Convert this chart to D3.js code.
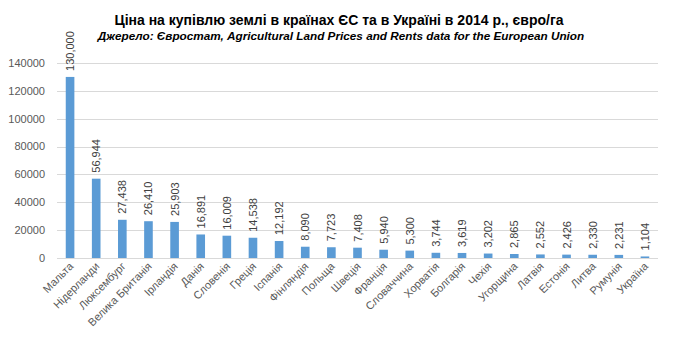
<!DOCTYPE html>
<html><head><meta charset="utf-8">
<script src="https://cdn.jsdelivr.net/npm/d3@7"></script>
<style>body{margin:0;background:#fff}svg{display:block}</style>
</head><body>
<script>
const categories = ["Мальта","Нідерланди","Люксембург","Велика Британія","Ірландія","Данія","Словенія","Греція","Іспанія","Фінляндія","Польща","Швеція","Франція","Словаччина","Хорватія","Болгарія","Чехія","Угорщина","Латвія","Естонія","Литва","Румунія","Україна"];
const prices = [130000,56944,27438,26410,25903,16891,16009,14538,12192,8090,7723,7408,5940,5300,3744,3619,3202,2865,2552,2426,2330,2231,1104];
const yTicks = [0,20000,40000,60000,80000,100000,120000,140000];
const title = "Ціна на купівлю землі в країнах ЄС та в Україні в 2014 р., євро/га";
const subtitle = "Джерело: Євростат,  Agricultural Land Prices and Rents data for the European Union";

const W = 673, H = 345;
const m = {left:57, right:15, top:63, bottom:87};
const svg = d3.select("body").append("svg").attr("width",W).attr("height",H);
const font = "'Liberation Sans', Arial, sans-serif";

const x = d3.scaleBand().domain(categories).range([m.left, W - m.right]).paddingInner(0.67).paddingOuter(0.335);
const y = d3.scaleLinear().domain([0,140000]).range([H - m.bottom, m.top]);

// gridlines
svg.append("g").selectAll("line").data(yTicks).join("line")
  .attr("x1", m.left).attr("x2", W - m.right)
  .attr("y1", d => Math.round(y(d))+0.5).attr("y2", d => Math.round(y(d))+0.5)
  .attr("stroke", "#d9d9d9").attr("stroke-width",1);

// y labels
svg.append("g").selectAll("text").data(yTicks).join("text")
  .attr("x", 45).attr("y", d => y(d)).attr("dy","0.35em")
  .attr("text-anchor","end").attr("font-family",font).attr("font-size",11)
  .attr("fill","#595959").text(d => d);

// bars
svg.append("g").selectAll("rect").data(prices).join("rect")
  .attr("x",(d,i)=>x(categories[i])).attr("width",x.bandwidth())
  .attr("y",d=>y(d)).attr("height",d=>y(0)-y(d))
  .attr("fill","#5b9bd5");

// data labels
const fmt = d3.format(",");
svg.append("g").selectAll("text").data(prices).join("text")
  .attr("transform",(d,i)=>`translate(${x(categories[i])+x.bandwidth()/2+4},${y(d)-6}) rotate(-90)`)
  .attr("font-family",font).attr("font-size",11).attr("fill","#404040")
  .attr("text-anchor","start").text(d=>fmt(d));

// category labels
svg.append("g").selectAll("text").data(categories).join("text")
  .attr("transform",d=>`translate(${x(d)+x.bandwidth()/2+4},${y(0)+9}) rotate(-45)`)
  .attr("font-family",font).attr("font-size",11).attr("fill","#595959")
  .attr("text-anchor","end").text(d=>d);

// title
svg.append("text").attr("x",339).attr("y",25).attr("text-anchor","middle")
  .attr("font-family",font).attr("font-size",14).attr("font-weight","bold").attr("fill","#000")
  .text(title);
svg.append("text").attr("x",341).attr("y",40).attr("text-anchor","middle")
  .attr("font-family",font).attr("font-size",11.75).attr("font-style","italic").attr("font-weight","bold").attr("fill","#000")
  .text(subtitle);
</script>
</body></html>
